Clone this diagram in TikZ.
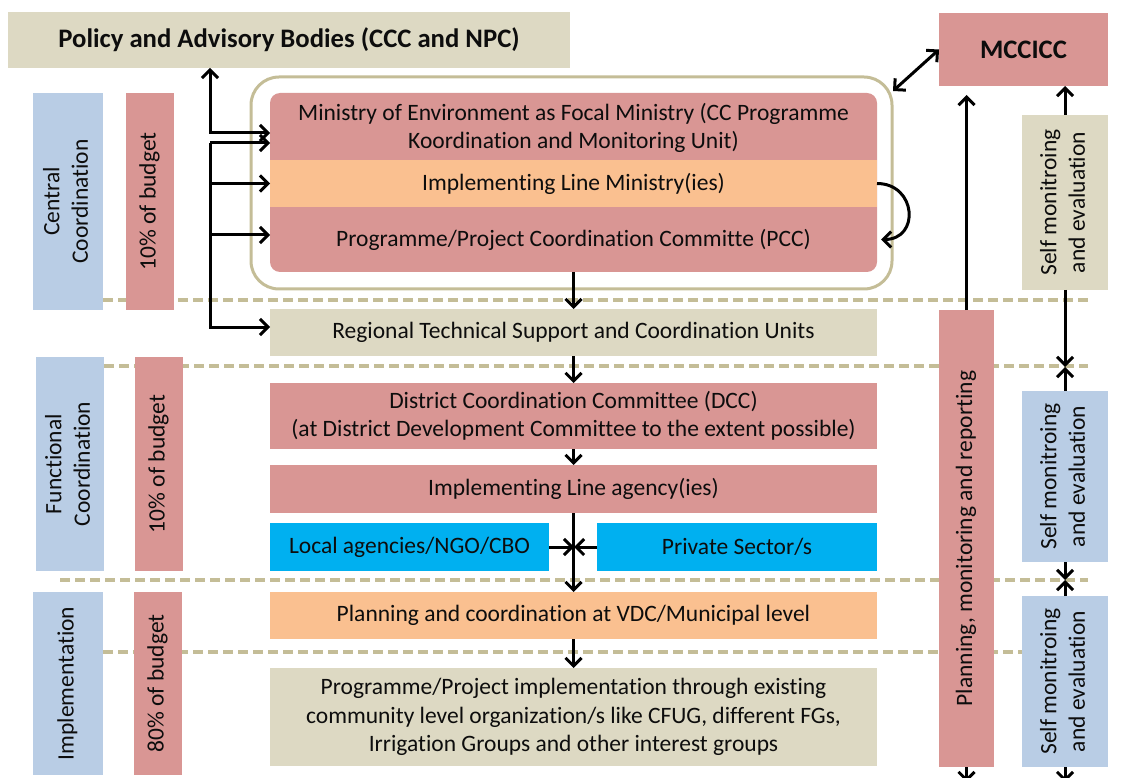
\documentclass[tikz,border=0pt]{standalone}
\usepackage{fontspec}
\setmainfont{Carlito}[Ligatures=NoCommon]
\usetikzlibrary{arrows.meta}
\definecolor{beige}{HTML}{DDD9C3}
\definecolor{rosy}{HTML}{D99694}
\definecolor{peach}{HTML}{FAC090}
\definecolor{lblue}{HTML}{B9CDE5}
\definecolor{cyanb}{HTML}{00B0F0}
\definecolor{dashc}{HTML}{C4BD97}
\definecolor{txt}{HTML}{0D0D0D}
\newcommand\myrot[1]{\rotatebox{90}{\begin{tabular}{@{}c@{}}#1\end{tabular}}}
\begin{document}
\begin{tikzpicture}[x=1pt,y=-1pt,
 box/.style={draw=none,inner sep=0pt,outer sep=0pt,align=center,font=\fontsize{23.5}{28.5}\selectfont,text=txt},
 arr/.style={line width=3pt,-{Straight Barb[length=8pt,width=16pt]}},
 darr/.style={line width=3pt,{Straight Barb[length=8pt,width=16pt]}-{Straight Barb[length=8pt,width=16pt]}},
 sep/.style={dashc,line width=4pt,dash pattern=on 9.5pt off 5.5pt}]
\useasboundingbox (0,0) rectangle (1125,778);
% separators
\draw[sep] (103,300) -- (1088,300);
\draw[sep] (104,366) -- (1088,366);
\draw[sep] (60,580) -- (1088,580);
\draw[sep] (103,652) -- (1022,652);
% top boxes
\node[box,fill=beige,minimum width=562pt,minimum height=56pt,font=\fontsize{26.7}{30}\selectfont\bfseries] (policy) at (289,40) {Policy and Advisory Bodies (CCC and NPC)};
\node[box,fill=rosy,minimum width=169pt,minimum height=73pt,font=\fontsize{26.7}{30}\selectfont\bfseries] (mccicc) at (1023.5,49.5) {MCCICC};
% left columns
\node[box,fill=lblue,minimum width=70pt,minimum height=217pt] (cblue) at (68,201.5) {\myrot{Central\\Coordination}};
\node[box,fill=rosy,minimum width=48pt,minimum height=217pt] (cred) at (150,201.5) {\myrot{10\% of budget}};
\node[box,fill=lblue,minimum width=68pt,minimum height=214pt] (fblue) at (70,464) {\myrot{Functional\\Coordination}};
\node[box,fill=rosy,minimum width=48pt,minimum height=214pt] (fred) at (159,464) {\myrot{10\% of budget}};
\node[box,fill=lblue,minimum width=70pt,minimum height=183pt] (iblue) at (68,683.5) {\myrot{Implementation}};
\node[box,fill=rosy,minimum width=48pt,minimum height=183pt] (ired) at (158,683.5) {\myrot{80\% of budget}};
% container
\node[box,draw=dashc,line width=3pt,rounded corners=28pt,minimum width=641pt,minimum height=212pt] (container) at (571.5,183) {};
\node[box,fill=rosy,rounded corners=10pt,minimum width=607pt,minimum height=179pt] (inner) at (573.5,182.5) {};
\node[box,fill=peach,minimum width=607pt,minimum height=47pt] (ilm) at (573.5,183.5) {Implementing Line Ministry(ies)};
\node[box,minimum width=607pt,minimum height=67pt] (ministry) at (573.5,128) {Ministry of Environment as Focal Ministry (CC Programme\\Koordination and Monitoring Unit)};
\node[box,minimum width=607pt,minimum height=65pt] (pcc) at (573.5,239.5) {Programme/Project Coordination Committe (PCC)};
% centre column
\node[box,fill=beige,minimum width=607pt,minimum height=47pt] (regional) at (573.5,332.5) {Regional Technical Support and Coordination Units};
\node[box,fill=rosy,minimum width=607pt,minimum height=66pt] (dcc) at (573.5,416) {District Coordination Committee (DCC)\\(at District Development Committee to the extent possible)};
\node[box,fill=rosy,minimum width=607pt,minimum height=48pt] (ila) at (573.5,489) {Implementing Line agency(ies)};
\node[box,fill=cyanb,minimum width=279pt,minimum height=48pt] (local) at (409.5,547) {Local agencies/NGO/CBO};
\node[box,fill=cyanb,minimum width=280pt,minimum height=48pt] (private) at (737,547) {Private Sector/s};
\node[box,fill=peach,minimum width=607pt,minimum height=47pt] (vdc) at (573.5,615.5) {Planning and coordination at VDC/Municipal level};
\node[box,fill=beige,minimum width=607pt,minimum height=98pt] (prog) at (573.5,717) {Programme/Project implementation through existing\\community level organization/s like CFUG, different FGs,\\Irrigation Groups and other interest groups};
% right columns
\node[box,fill=rosy,minimum width=55pt,minimum height=457pt] (plan) at (966.5,538.5) {\myrot{Planning, monitoring and reporting}};
\node[box,fill=beige,minimum width=86pt,minimum height=175pt] (sm1) at (1065,202.5) {\myrot{Self monitroing\\and evaluation}};
\node[box,fill=lblue,minimum width=86pt,minimum height=171pt] (sm2) at (1065,476.5) {\myrot{Self monitroing\\and evaluation}};
\node[box,fill=lblue,minimum width=86pt,minimum height=171pt] (sm3) at (1065,681.5) {\myrot{Self monitroing\\and evaluation}};
% coordinates
\coordinate (a1) at (210,133);
\coordinate (a2) at (210,143);
\coordinate (a3) at (210,327);
\coordinate (a4) at (210,235);
\coordinate (cne) at (893,91);
\coordinate (m1) at (1065,367);
\coordinate (m2) at (1065,580);
\coordinate (bp) at (966.5,782);
\coordinate (bs) at (1065,782);
\coordinate (mid) at (574,547);
% left connectors
\draw[darr] (a1 |- policy.south) -- (a1) -- (ministry.west |- a1);
\draw[arr] (a2) -- (ministry.west |- a2);
\draw[arr] (a2) -- (a3) -- (regional.west |- a3);
\draw[arr] (a2 |- ilm.west) -- (ilm.west);
\draw[arr] (a4) -- (pcc.west |- a4);
\draw[arr] (ilm.east) to[out=0,in=0,looseness=1.8] ([xshift=4pt]pcc.east);
\draw[darr] (cne) -- (mccicc.west);
% centre connectors
\draw[arr] (inner.south) -- (inner.south |- regional.north);
\draw[arr] (regional.south) -- (regional.south |- dcc.north);
\draw[arr] (dcc.south) -- (dcc.south |- ila.north);
\draw[arr] (ila.south) -- (ila.south |- vdc.north);
\draw[arr] (local.east) -- (mid);
\draw[arr] (private.west) -- (mid);
\draw[arr] (vdc.south) -- (vdc.south |- prog.north);
% right connectors
\draw[arr] (plan.north) -- ([yshift=-9pt]plan.north |- mccicc.south);
\draw[arr] (plan.south) -- (bp);
\draw[arr] (sm1.north) -- (sm1.north |- mccicc.south);
\draw[arr] (sm1.south) -- (m1);
\draw[arr] (sm2.north) -- (m1);
\draw[arr] (sm2.south) -- (m2);
\draw[arr] (sm3.north) -- (m2);
\draw[arr] (sm3.south) -- (bs);
\end{tikzpicture}
\end{document}
